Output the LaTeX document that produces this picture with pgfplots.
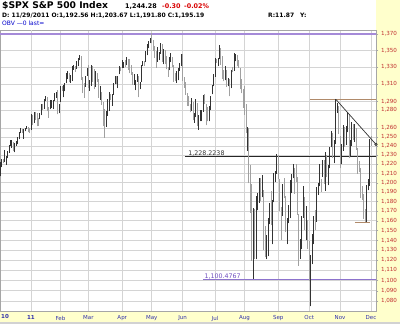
\documentclass[border=0pt]{standalone}
\usepackage{pgfplots}
\usepackage{pgfplotstable}
\pgfplotsset{compat=1.18}
\usepackage{fontspec}
\setmainfont{DejaVu Sans}
\definecolor{panel}{HTML}{FFFFCC}
\definecolor{tickred}{HTML}{C03030}
\definecolor{monthblue}{HTML}{3333AA}
\definecolor{purpleline}{HTML}{A58AD8}
\definecolor{purpledark}{HTML}{7050C0}
\definecolor{brownline}{HTML}{B08A6A}
\definecolor{gridgray}{HTML}{D4D4D4}
\definecolor{downgray}{HTML}{A0A0A0}

\pgfplotstableread{
x h l u
1 1221.9 1206.8 1
2 1225.6 1216.8 1
3 1225.1 1220.7 0
4 1235.1 1222.4 1
5 1228.9 1219.5 1
6 1234.3 1226.1 1
7 1240.4 1232.6 1
8 1246.7 1240.3 1
9 1246.6 1238.1 1
10 1244.3 1234.0 0
11 1243.4 1232.9 1
12 1245.0 1239.9 1
13 1250.0 1241.5 1
14 1255.0 1247.1 1
15 1259.4 1254.2 1
16 1258.6 1254.0 0
17 1258.6 1248.0 1
18 1259.9 1256.2 1
19 1262.6 1258.5 1
20 1260.6 1255.0 0
21 1259.3 1254.2 0
22 1276.2 1257.6 1
23 1274.1 1262.7 0
24 1277.6 1265.4 1
25 1278.2 1268.7 0
26 1276.8 1261.7 0
27 1271.5 1262.2 0
28 1277.3 1269.6 1
29 1286.9 1274.5 1
30 1286.6 1280.5 0
31 1293.2 1281.1 1
32 1296.1 1290.2 1
33 1294.6 1278.9 0
34 1283.3 1271.3 0
35 1291.2 1281.1 1
36 1291.9 1282.5 1
37 1291.3 1281.1 1
38 1299.7 1290.0 1
39 1301.3 1294.4 1
40 1302.7 1275.1 0
41 1287.2 1276.3 1
42 1308.0 1289.1 1
43 1308.0 1301.9 0
44 1308.6 1294.8 1
45 1311.0 1301.7 1
46 1322.9 1311.0 1
47 1324.9 1316.0 1
48 1323.2 1312.4 0
49 1321.1 1311.4 1
50 1330.8 1313.6 1
51 1332.5 1326.9 1
52 1330.9 1324.6 0
53 1337.6 1328.0 1
54 1341.5 1331.0 1
55 1344.1 1338.1 1
56 1343.0 1314.9 0
57 1317.9 1299.6 0
58 1310.9 1294.3 0
59 1320.0 1307.3 1
60 1329.0 1320.0 1
61 1332.3 1306.1 0
62 1314.4 1302.6 1
63 1332.3 1308.4 1
64 1331.1 1312.6 0
65 1327.7 1304.0 0
66 1325.7 1306.9 1
67 1323.2 1312.3 0
68 1315.7 1294.2 0
69 1308.4 1292.0 1
70 1301.3 1286.4 0
71 1288.9 1261.9 0
72 1280.9 1249.1 0
73 1278.7 1261.1 1
74 1292.4 1273.7 1
75 1300.6 1279.2 1
76 1299.1 1291.3 0
77 1299.0 1285.3 1
78 1311.8 1297.7 1
79 1319.2 1310.0 1
80 1319.7 1310.2 0
81 1319.4 1305.3 1
82 1331.7 1321.9 1
83 1329.8 1325.0 0
84 1337.9 1328.9 1
85 1336.7 1329.1 1
86 1338.2 1330.0 0
87 1341.9 1332.0 1
88 1339.5 1326.7 0
89 1339.5 1322.9 0
90 1333.2 1321.1 0
91 1324.5 1309.2 0
92 1321.4 1309.2 1
93 1314.5 1303.0 1
94 1322.2 1313.1 1
95 1319.7 1294.7 0
96 1312.7 1304.0 1
97 1332.8 1313.1 1
98 1337.5 1331.3 1
99 1337.6 1331.7 0
100 1349.6 1336.0 1
101 1357.5 1344.0 1
102 1361.7 1352.5 1
103 1364.6 1358.7 1
104 1370.6 1358.6 0
105 1362.6 1349.1 0
106 1355.7 1341.5 0
107 1349.2 1329.2 0
108 1354.4 1336.4 1
109 1348.0 1338.5 1
110 1359.4 1346.3 1
111 1357.5 1336.7 0
112 1351.2 1333.6 1
113 1350.5 1333.4 0
114 1343.3 1327.3 0
115 1330.4 1318.5 0
116 1341.8 1326.6 1
117 1346.8 1336.1 1
118 1342.0 1330.7 0
119 1333.1 1312.9 0
120 1323.5 1313.8 0
121 1325.9 1311.8 1
122 1328.5 1314.4 1
123 1334.6 1325.7 1
124 1345.2 1331.1 1
125 1345.2 1313.7 0
126 1318.0 1305.6 0
127 1312.9 1297.9 0
128 1300.3 1284.9 0
129 1296.2 1284.7 0
130 1287.2 1277.4 0
131 1294.3 1279.6 1
132 1289.0 1268.5 0
133 1277.0 1265.6 1
134 1292.5 1272.0 1
135 1287.9 1261.9 0
136 1274.1 1258.1 1
137 1279.8 1267.4 1
138 1280.4 1267.6 1
139 1297.6 1278.4 1
140 1298.6 1286.8 0
141 1286.8 1262.9 0
142 1283.9 1267.2 0
143 1284.5 1267.5 1
144 1296.2 1280.1 1
145 1309.2 1298.1 1
146 1322.0 1307.6 1
147 1341.0 1318.5 1
148 1340.0 1335.2 0
149 1340.5 1330.9 1
150 1356.5 1339.2 1
151 1353.2 1333.2 0
152 1343.8 1316.4 0
153 1327.2 1313.3 0
154 1331.5 1314.5 1
155 1326.7 1306.9 0
156 1317.0 1307.6 1
157 1316.1 1295.9 0
158 1327.2 1305.4 1
159 1330.4 1323.7 0
160 1347.0 1325.8 1
161 1346.1 1336.9 1
162 1344.3 1331.1 0
163 1338.5 1329.6 0
164 1329.6 1303.9 0
165 1316.3 1299.2 0
166 1304.0 1282.9 0
167 1307.4 1274.7 0
168 1286.6 1254.0 0
169 1261.0 1234.6 1
170 1260.1 1199.5 0
171 1218.6 1168.1 0
172 1199.0 1119.3 0
173 1172.9 1101.5 1
174 1172.6 1121.0 0
175 1186.3 1121.1 1
176 1189.0 1170.7 1
177 1204.5 1178.8 1
178 1204.5 1180.5 0
179 1208.5 1184.4 1
180 1191.9 1130.0 0
181 1154.9 1122.9 0
182 1145.5 1121.1 1
183 1162.4 1123.8 1
184 1178.1 1156.3 1
185 1190.7 1155.1 0
186 1181.2 1135.9 1
187 1210.3 1179.0 1
188 1213.0 1200.5 1
189 1230.7 1209.4 1
190 1230.0 1204.2 0
191 1203.9 1170.6 0
192 1174.0 1140.1 0
193 1198.6 1165.2 1
194 1204.5 1183.3 0
195 1185.9 1148.4 0
196 1162.6 1136.1 1
197 1176.4 1157.4 1
198 1202.4 1162.7 1
199 1209.1 1188.7 1
200 1220.1 1204.5 1
201 1216.0 1188.3 0
202 1220.4 1201.2 0
203 1206.3 1166.4 0
204 1166.8 1114.2 0
205 1141.7 1121.4 1
206 1164.6 1131.1 1
207 1195.9 1163.0 1
208 1184.6 1150.4 0
209 1175.4 1139.9 1
210 1160.4 1131.3 0
211 1139.0 1098.9 0
212 1125.2 1074.8 1
213 1146.1 1116.1 1
214 1165.0 1136.1 1
215 1171.4 1150.3 0
216 1194.9 1158.7 1
217 1199.4 1187.3 1
218 1220.3 1196.0 1
219 1203.9 1190.1 0
220 1224.6 1206.3 1
221 1224.6 1198.6 0
222 1233.1 1191.5 1
223 1229.6 1206.3 0
224 1219.4 1197.3 1
225 1239.0 1215.4 1
226 1256.6 1238.3 1
227 1254.2 1226.8 0
228 1246.3 1221.1 1
229 1292.7 1242.0 1
230 1287.9 1277.0 1
231 1285.0 1253.2 0
232 1251.0 1215.4 0
233 1242.5 1219.6 1
234 1263.2 1234.8 1
235 1260.8 1238.9 0
236 1261.7 1240.8 1
237 1277.6 1255.0 1
238 1275.2 1226.6 0
239 1246.2 1227.7 1
240 1267.0 1240.1 1
241 1263.9 1246.7 0
242 1264.3 1244.3 1
243 1259.6 1235.7 0
244 1237.7 1209.4 0
245 1223.5 1211.4 0
246 1215.6 1183.2 0
247 1196.8 1181.7 0
248 1187.5 1161.8 0
249 1172.7 1158.7 0
250 1197.4 1158.7 1
251 1203.7 1191.8 1
252 1247.1 1196.7 1
253 1251.1 1239.7 0
}\spx

\begin{document}
\begin{tikzpicture}
\path[use as bounding box] (0,0) rectangle (400pt,324pt);
\fill[white] (0,0) rectangle (400pt,324pt);
\fill[panel] (376pt,0) rectangle (400pt,324pt);
\fill[panel] (0,0) rectangle (376pt,13pt);
\fill[gray!35] (0,0) rectangle (400pt,1.5pt);
\begin{axis}[
  at={(0pt,13pt)}, anchor=south west,
  width=376pt, height=281pt, scale only axis,
  ymode=log,
  xmin=0.94, xmax=256.4, ymin=1070.5, ymax=1374.9,
  axis line style={draw=gray!70},
  /pgf/number format/assume math mode=true,
  xtick={42,61,84,104,125,147,167,190,211,232,253},
  xticklabels={Feb,Mar,Apr,May,Jun,Jul,Aug,Sep,Oct,Nov,Dec},
  extra x ticks={22},
  extra x tick labels={\textbf{11}},
  extra x tick style={grid style={draw=gray!80, line width=0.8pt}},
  xticklabel style={font=\fontsize{5.5}{6}\selectfont, text=monthblue, yshift=1pt},
  xmajorgrids, ymajorgrids,
  major grid style={draw=gridgray, line width=0.6pt},
  xtick pos=bottom, ytick pos=right,
  yticklabel pos=right,
  tick align=outside,
  major tick length=2.5pt,
  xtick style={draw=none},
  ytick style={draw=gray!70},
  ytick={1080,1090,1100,1110,1120,1130,1140,1150,1160,1170,1180,1190,1200,1210,1220,1230,1240,1250,1260,1280,1290,1310,1330,1350,1370},
  yticklabels={{1,080},{1,090},{1,100},{1,110},{1,120},{1,130},{1,140},{1,150},{1,160},{1,170},{1,180},{1,190},{1,200},{1,210},{1,220},{1,230},{1,240},{1,250},{1,260},{1,280},{1,290},{1,310},{1,330},{1,350},{1,370}},
  yticklabel style={font=\fontsize{5.6}{6}\selectfont, text=tickred, anchor=west, xshift=-1pt},
  clip=true,
]
% horizontal reference lines
\addplot[draw=purpleline, line width=1.6pt, forget plot] coordinates {(0.94,1370.08) (256.4,1370.08)};
\addplot[draw=black!85, line width=0.7pt, forget plot] coordinates {(126.6,1228.22) (256.4,1228.22)};
\addplot[draw=purpledark!80, line width=0.8pt, forget plot] coordinates {(138.8,1100.48) (256.4,1100.48)};
\addplot[draw=brownline, line width=0.8pt, forget plot] coordinates {(211.5,1292.66) (256.4,1292.66)};
\addplot[draw=brownline, line width=0.8pt, forget plot] coordinates {(242,1158.66) (252,1158.66)};
% price bars: down days
\addplot[only marks, mark=*, mark size=0pt, mark options={draw=none, fill=none}, color=downgray, forget plot,
  restrict expr to domain={\thisrow{u}}{-0.5:0.5},
  error bars/.cd, y dir=plus, y explicit, error mark=none,
  error bar style={line width=0.75pt, downgray}]
  table[x=x, y=l, y error expr=\thisrow{h}-\thisrow{l}] {\spx};
% price bars: up days
\addplot[only marks, mark=*, mark size=0pt, mark options={draw=none, fill=none}, color=black, forget plot,
  restrict expr to domain={\thisrow{u}}{0.5:1.5},
  error bars/.cd, y dir=plus, y explicit, error mark=none,
  error bar style={line width=0.75pt, black!80}]
  table[x=x, y=l, y error expr=\thisrow{h}-\thisrow{l}] {\spx};
% trend line
\addplot[draw=black!80, line width=0.7pt, mark=o, mark size=1.2pt, mark indices={2}, forget plot]
  coordinates {(229,1292.66) (256.4,1241.6)};
\node[anchor=south west, inner sep=0.5pt, font=\fontsize{6.3}{7}\selectfont, text=black!80]
  at (axis cs:128.5,1228.22) {1,228.2238};
\node[anchor=south west, inner sep=0.5pt, font=\fontsize{6.3}{7}\selectfont, text=purpledark]
  at (axis cs:139.5,1100.48) {1,100.4767};
\end{axis}
% year label at left
\node[anchor=base west, inner sep=0, font=\bfseries\fontsize{5.5}{6}\selectfont, text=monthblue] at (1pt,5pt) {10};
% header
\node[anchor=base west, inner sep=0, font=\bfseries\fontsize{9.2}{10}\selectfont] at (2pt,315pt) {\$SPX S\&P 500 Index};
\node[anchor=base west, inner sep=0, font=\bfseries\fontsize{6.4}{8}\selectfont] at (125pt,315pt) {1,244.28};
\node[anchor=base west, inner sep=0, font=\bfseries\fontsize{6.4}{8}\selectfont, text=red!85!black] at (162pt,315pt) {-0.30};
\node[anchor=base west, inner sep=0, font=\bfseries\fontsize{6.4}{8}\selectfont, text=red!85!black] at (184pt,315pt) {-0.02\%};
\node[anchor=base west, inner sep=0, font=\bfseries\fontsize{6}{7}\selectfont] at (2pt,306.5pt) {D: 11/29/2011 O:1,192.56 H:1,203.67 L:1,191.80 C:1,195.19};
\node[anchor=base west, inner sep=0, font=\bfseries\fontsize{6}{7}\selectfont] at (268pt,306.5pt) {R:11.87\quad Y:};
\node[anchor=base west, inner sep=0, font=\fontsize{6}{7}\selectfont, text=blue!80!black] at (2pt,298pt) {OBV —0 last=};
\end{tikzpicture}
\end{document}
